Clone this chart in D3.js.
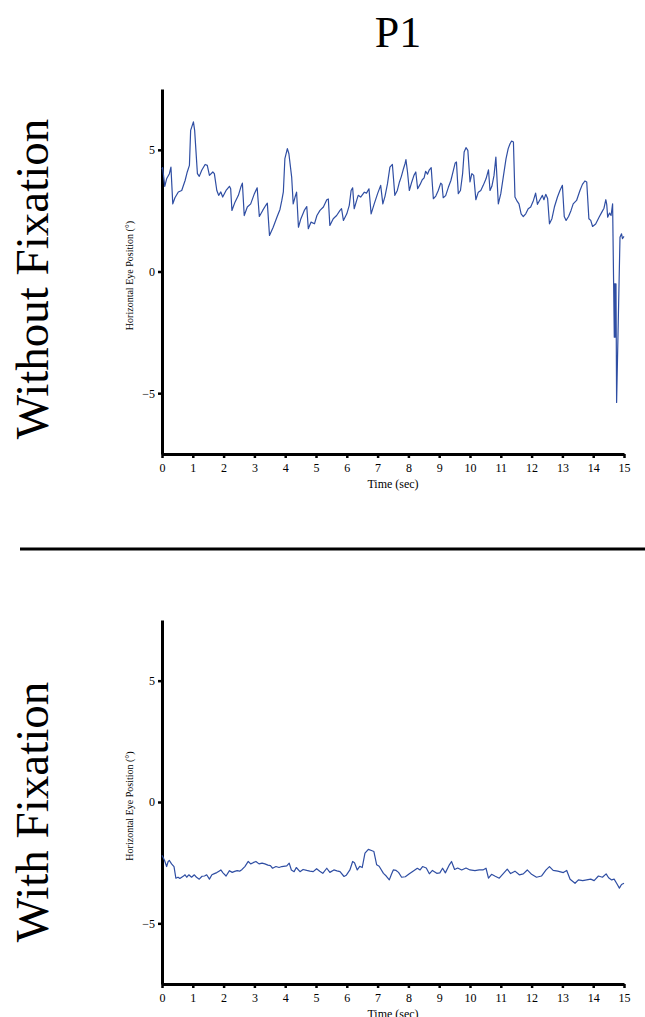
<!DOCTYPE html>
<html>
<head>
<meta charset="utf-8">
<script src="https://cdn.jsdelivr.net/npm/d3@7"></script>
<style>
  body { margin: 0; background: #fff; }
  svg { display: block; font-family: "Liberation Serif", "Times New Roman", serif; }
</style>
</head>
<body>
<svg id="chart" width="645" height="1017"></svg>
<script>
// eye trace without fixation (time in sec, position in deg)
var tNoFix = [0, 0.02, 0.09, 0.15, 0.24, 0.29, 0.35, 0.42, 0.53, 0.64, 0.75, 0.82, 0.89, 0.93, 1.02, 1.06, 1.15, 1.21, 1.29, 1.40,
  1.47, 1.54, 1.65, 1.70, 1.78, 1.84, 1.91, 1.97, 2.08, 2.19, 2.23, 2.27, 2.37, 2.48, 2.56, 2.61, 2.67, 2.77, 2.88, 3.00,
  3.09, 3.16, 3.27, 3.37, 3.42, 3.49, 3.61, 3.74, 3.83, 3.89, 3.94, 3.99, 4.07, 4.12, 4.21, 4.26, 4.32, 4.37, 4.43, 4.51,
  4.62, 4.70, 4.75, 4.84, 4.95, 5.03, 5.13, 5.24, 5.35, 5.40, 5.45, 5.56, 5.67, 5.78, 5.83, 5.89, 6.00, 6.08, 6.14, 6.19,
  6.24, 6.32, 6.37, 6.45, 6.57, 6.64, 6.72, 6.79, 6.89, 7.00, 7.10, 7.17, 7.24, 7.32, 7.40, 7.48, 7.56, 7.64, 7.71, 7.77,
  7.83, 7.89, 7.92, 7.97, 8.03, 8.11, 8.18, 8.24, 8.30, 8.38, 8.45, 8.51, 8.56, 8.62, 8.68, 8.74, 8.81, 8.89, 8.97, 9.05,
  9.09, 9.13, 9.21, 9.30, 9.38, 9.46, 9.52, 9.56, 9.62, 9.69, 9.76, 9.81, 9.87, 9.93, 10.00, 10.06, 10.12, 10.19, 10.27, 10.35,
  10.43, 10.52, 10.60, 10.65, 10.71, 10.78, 10.84, 10.92, 11.00, 11.08, 11.17, 11.24, 11.30, 11.35, 11.41, 11.46, 11.53, 11.59, 11.66, 11.73,
  11.81, 11.89, 11.97, 12.06, 12.13, 12.19, 12.27, 12.35, 12.40, 12.46, 12.52, 12.58, 12.66, 12.74, 12.84, 12.92, 13.00, 13.06, 13.12, 13.20,
  13.28, 13.35, 13.46, 13.57, 13.65, 13.73, 13.79, 13.86, 13.92, 13.98, 14.08, 14.19, 14.28, 14.35, 14.41, 14.44, 14.47, 14.53, 14.58, 14.63,
  14.685, 14.69, 14.71, 14.72, 14.74, 14.76, 14.87, 14.92, 14.95, 15.0];
var eyeNoFix = [4.2, 4.27, 3.5, 3.81, 4.02, 4.29, 2.78, 3.03, 3.27, 3.33, 3.74, 4.09, 4.36, 5.80, 6.15, 5.80, 4.02, 3.91, 4.16, 4.40,
  4.36, 3.95, 4.09, 4.02, 3.33, 3.13, 3.27, 3.06, 3.33, 3.50, 3.40, 2.51, 2.85, 3.13, 3.47, 3.63, 2.30, 2.65, 2.78, 3.20,
  3.44, 2.26, 2.51, 2.72, 2.81, 1.48, 1.82, 2.26, 2.55, 2.92, 3.27, 4.64, 5.05, 4.84, 3.88, 2.78, 3.06, 3.26, 1.82, 2.17,
  2.51, 2.67, 1.76, 2.03, 1.96, 2.30, 2.51, 2.65, 2.95, 2.98, 1.89, 2.17, 2.30, 2.51, 2.58, 2.10, 2.37, 2.72, 3.33, 3.44,
  2.58, 2.92, 3.13, 3.06, 3.26, 3.22, 3.40, 2.37, 2.78, 3.20, 3.54, 2.78, 3.09, 3.60, 4.29, 4.40, 3.13, 3.33, 3.68, 3.90,
  4.18, 4.43, 4.60, 4.10, 3.33, 3.68, 3.95, 4.09, 3.40, 3.58, 3.77, 3.85, 4.12, 4.00, 4.18, 4.27, 2.99, 3.10, 3.33, 3.63,
  3.58, 3.03, 3.12, 3.47, 3.74, 4.16, 4.46, 4.50, 3.20, 3.33, 4.02, 4.91, 5.09, 4.98, 3.68, 4.02, 3.95, 2.95, 3.26, 3.33,
  3.54, 3.81, 4.18, 3.33, 3.50, 3.95, 4.70, 2.78, 3.20, 3.88, 4.64, 5.05, 5.25, 5.36, 5.32, 3.06, 2.89, 2.78, 2.37, 2.26,
  2.37, 2.58, 2.65, 2.92, 3.22, 2.76, 2.95, 3.13, 2.95, 3.17, 3.00, 1.96, 2.17, 2.65, 3.06, 3.33, 3.54, 2.26, 2.10, 2.26,
  2.51, 2.78, 2.92, 3.33, 3.58, 3.72, 3.68, 2.17, 2.10, 1.85, 1.95, 2.23, 2.44, 2.60, 2.95, 2.75, 2.23, 2.40, 2.30, 2.78,
  -2.70, -0.51, -2.70, -0.51, -0.51, -5.38, 1.41, 1.55, 1.35, 1.44];

// eye trace with fixation
var tFix = [0, 0.02, 0.08, 0.15, 0.20, 0.24, 0.31, 0.39, 0.45, 0.52, 0.58, 0.64, 0.70, 0.75, 0.80, 0.87, 0.96, 1.05, 1.12, 1.21,
  1.30, 1.38, 1.45, 1.54, 1.62, 1.70, 1.78, 1.85, 1.91, 1.98, 2.08, 2.19, 2.28, 2.36, 2.44, 2.52, 2.60, 2.69, 2.80, 2.88,
  2.96, 3.05, 3.15, 3.25, 3.34, 3.44, 3.52, 3.59, 3.70, 3.80, 3.89, 4.05, 4.13, 4.20, 4.29, 4.36, 4.48, 4.58, 4.70, 4.80,
  4.91, 5.02, 5.12, 5.22, 5.35, 5.45, 5.58, 5.68, 5.78, 5.91, 5.98, 6.10, 6.19, 6.25, 6.34, 6.42, 6.50, 6.59, 6.70, 6.80,
  6.88, 6.97, 7.05, 7.19, 7.28, 7.38, 7.45, 7.51, 7.60, 7.68, 7.78, 7.90, 8.03, 8.15, 8.29, 8.38, 8.46, 8.58, 8.68, 8.78,
  8.92, 9.02, 9.11, 9.20, 9.33, 9.40, 9.50, 9.60, 9.73, 9.87, 10.00, 10.16, 10.30, 10.42, 10.52, 10.60, 10.70, 10.82, 10.95, 11.08,
  11.21, 11.32, 11.46, 11.60, 11.73, 11.86, 12.00, 12.16, 12.32, 12.47, 12.58, 12.70, 12.85, 13.03, 13.14, 13.25, 13.41, 13.52, 13.66, 13.79,
  13.92, 14.03, 14.17, 14.30, 14.42, 14.50, 14.60, 14.68, 14.76, 14.85, 14.92, 15.0];
var eyeFix = [-2.2, -2.25, -2.40, -2.66, -2.45, -2.41, -2.55, -2.66, -3.14, -3.10, -3.15, -3.10, -3.05, -3.00, -3.10, -3.00, -3.10, -3.00, -3.10, -3.18,
  -3.06, -3.05, -3.00, -3.18, -3.00, -2.95, -2.91, -2.85, -2.80, -2.92, -3.05, -2.83, -2.90, -2.86, -2.83, -2.85, -2.78, -2.66, -2.45, -2.55,
  -2.50, -2.45, -2.55, -2.52, -2.55, -2.60, -2.62, -2.73, -2.66, -2.70, -2.66, -2.63, -2.52, -2.80, -2.87, -2.70, -2.87, -2.78, -2.82, -2.85,
  -2.87, -2.75, -2.85, -2.94, -2.73, -2.90, -2.80, -2.84, -2.87, -3.07, -3.02, -2.80, -2.45, -2.50, -2.80, -2.65, -2.70, -2.11, -1.95, -2.00,
  -2.04, -2.59, -2.65, -2.94, -3.05, -3.21, -2.98, -2.80, -2.82, -2.90, -3.10, -3.08, -2.96, -2.85, -2.73, -2.80, -2.66, -2.72, -2.96, -2.82,
  -2.94, -2.92, -2.73, -2.92, -2.59, -2.45, -2.78, -2.72, -2.80, -2.72, -2.80, -2.83, -2.80, -2.80, -2.73, -3.14, -2.98, -3.06, -3.14, -2.95,
  -2.77, -2.95, -2.85, -3.00, -2.96, -2.80, -2.98, -3.10, -3.05, -2.80, -2.66, -2.82, -2.85, -2.91, -2.82, -3.18, -3.35, -3.21, -3.24, -3.21,
  -3.18, -3.24, -3.05, -3.10, -2.96, -3.12, -3.21, -3.18, -3.35, -3.55, -3.40, -3.35];

var timeTicks = d3.range(0, 16);
var posTicks = [-5, 0, 5];
var panelTitles = ["Without Fixation", "With Fixation"];

var svg = d3.select("#chart");
var lineColor = "#2f4ea3";

var x = d3.scaleLinear().domain([0, 15]).range([162, 624]);

svg.append("text")
  .attr("x", 398).attr("y", 47)
  .attr("text-anchor", "middle")
  .attr("font-size", 44)
  .text("P1");

// divider between the two conditions
svg.append("line")
  .attr("x1", 20).attr("x2", 645)
  .attr("y1", 549).attr("y2", 549)
  .attr("stroke", "#000").attr("stroke-width", 3);

function drawPanel(top, bottom, times, values, title, titleY) {
  var y = d3.scaleLinear().domain([-7.5, 7.5]).range([bottom, top]);
  var g = svg.append("g");

  var xAxis = g.append("g")
    .attr("transform", "translate(0," + bottom + ")")
    .call(d3.axisBottom(x).tickValues(timeTicks).tickSizeInner(4).tickSizeOuter(0).tickPadding(5));
  var yAxis = g.append("g")
    .attr("transform", "translate(" + x(0) + ",0)")
    .call(d3.axisLeft(y).tickValues(posTicks).tickSizeInner(4).tickSizeOuter(0).tickPadding(3));

  [xAxis, yAxis].forEach(function(a) {
    a.attr("font-family", null).attr("font-size", 12);
    a.select(".domain").attr("stroke-width", 3);
    a.selectAll(".tick line").attr("stroke-width", 2.5);
  });

  g.append("text")
    .attr("x", (x(0) + x(15)) / 2).attr("y", bottom + 34)
    .attr("text-anchor", "middle")
    .attr("font-size", 12)
    .text("Time (sec)");

  g.append("text")
    .attr("transform", "translate(133," + ((top + bottom) / 2 + 4) + ") rotate(-90)")
    .attr("text-anchor", "middle")
    .attr("font-size", 10)
    .text("Horizontal Eye Position (°)");

  g.append("text")
    .attr("transform", "translate(48," + titleY + ") rotate(-90)")
    .attr("text-anchor", "middle")
    .attr("font-size", 47)
    .text(title);

  var line = d3.line()
    .x(function(d, i) { return x(times[i]); })
    .y(function(d) { return y(d); });

  g.append("path")
    .datum(values)
    .attr("d", line)
    .attr("fill", "none")
    .attr("stroke", lineColor)
    .attr("stroke-width", 1.2)
    .attr("stroke-linejoin", "round");
}

drawPanel(89, 454, tNoFix, eyeNoFix, panelTitles[0], 279);
drawPanel(620, 984, tFix, eyeFix, panelTitles[1], 812);
</script>
</body>
</html>
